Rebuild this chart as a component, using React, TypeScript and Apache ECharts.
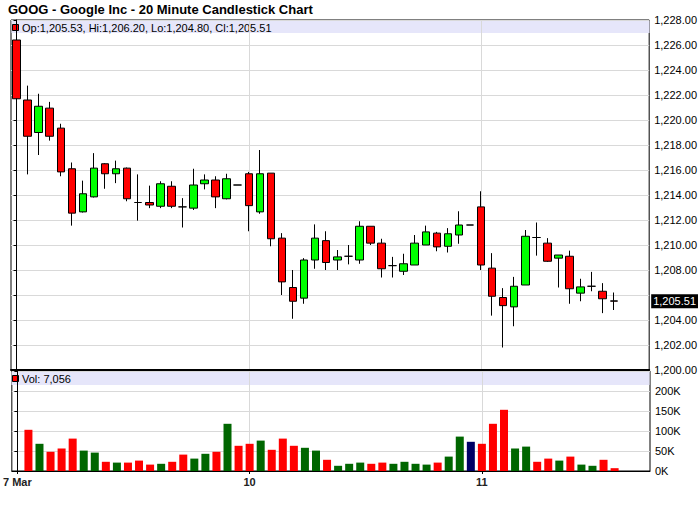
import React, { useEffect, useRef } from 'react';
import * as echarts from 'echarts';

const TITLE = 'GOOG - Google Inc - 20 Minute Candlestick Chart';
const dayLabels = ['7 Mar', '10', '11'];
const dayStartIndex = [0, 21, 42];

const opens = [
  1226.4, 1221.6, 1219.0, 1220.95, 1219.35, 1216.1, 1212.65, 1213.85, 1216.5, 1215.7,
  1216.15, 1213.4, 1213.4, 1213.1, 1214.7, 1213.05, 1212.95, 1214.9, 1215.2, 1213.7,
  1214.8, 1215.7, 1212.65, 1215.75, 1210.55, 1206.6, 1205.75, 1208.8, 1210.35, 1208.8,
  1209.1, 1208.8, 1211.5, 1210.15, 1208.35, 1207.9, 1208.4, 1210.0, 1210.95, 1209.9,
  1210.8, 1211.6, 1213.05, 1208.15, 1205.8, 1205.05, 1206.8, 1210.6, 1210.15, 1208.95,
  1209.1, 1206.15, 1206.7, 1206.3, 1205.53,
];
const highs = [
  1226.85, 1222.75, 1222.1, 1221.45, 1219.7, 1216.6, 1215.15, 1217.35, 1216.55, 1216.75,
  1216.2, 1215.65, 1214.75, 1215.1, 1215.1, 1213.75, 1216.1, 1215.65, 1215.5, 1215.7,
  1214.8, 1215.85, 1217.6, 1215.75, 1210.95, 1208.0, 1208.95, 1211.65, 1211.1, 1209.6,
  1210.0, 1211.9, 1211.5, 1210.5, 1209.05, 1209.3, 1210.8, 1211.55, 1211.05, 1211.35,
  1212.7, 1211.6, 1214.3, 1209.35, 1206.55, 1207.45, 1211.2, 1211.8, 1210.55, 1209.2,
  1209.55, 1207.3, 1207.85, 1206.95, 1206.2,
];
const lows = [
  1220.9, 1215.65, 1217.2, 1218.35, 1215.5, 1211.55, 1212.6, 1213.8, 1214.5, 1214.95,
  1213.5, 1211.95, 1212.95, 1212.95, 1212.95, 1211.4, 1212.8, 1214.45, 1212.95, 1213.65,
  1214.8, 1211.1, 1212.5, 1209.9, 1206.0, 1204.1, 1205.3, 1208.1, 1208.0, 1208.0,
  1208.45, 1208.5, 1210.0, 1207.4, 1207.4, 1207.6, 1208.4, 1210.0, 1209.5, 1209.4,
  1210.1, 1211.6, 1208.0, 1204.35, 1201.8, 1203.5, 1206.8, 1209.15, 1208.65, 1206.6,
  1205.3, 1205.5, 1206.3, 1204.55, 1204.8,
];
const closes = [
  1221.7, 1218.7, 1221.1, 1218.7, 1215.85, 1212.55, 1214.1, 1216.15, 1215.7, 1216.1,
  1213.7, 1213.4, 1213.2, 1214.9, 1213.1, 1213.05, 1214.8, 1215.2, 1213.85, 1215.3,
  1214.8, 1213.15, 1215.7, 1210.5, 1207.05, 1205.5, 1208.8, 1210.55, 1208.6, 1209.05,
  1209.1, 1211.5, 1210.15, 1208.1, 1208.35, 1208.5, 1210.15, 1211.05, 1209.85, 1210.9,
  1211.6, 1211.6, 1208.4, 1205.9, 1205.15, 1206.7, 1210.7, 1210.6, 1208.7, 1209.2,
  1206.5, 1206.65, 1206.7, 1205.7, 1205.51,
];
const volumes: (number | null)[] = [
  null, 103000, 68000, 48000, 56000, 81000, 51000, 46000, 23000, 21000,
  21000, 26000, 16000, 18000, 23000, 41000, 31000, 43000, 48000, 118000,
  63000, 68000, 76000, 53000, 81000, 63000, 58000, 51000, 28000, 13000,
  18000, 21000, 18000, 21000, 18000, 23000, 18000, 16000, 21000, 36000,
  86000, 73000, 68000, 118000, 153000, 56000, 61000, 23000, 31000, 26000,
  36000, 16000, 13000, 28000, 7056,
];

const PRICE_MIN = 1200;
const PRICE_MAX = 1228;
const PRICE_STEP = 2;
const VOL_MAX = 250000;
const VOL_STEP = 50000;

const FONT = '"Liberation Sans", Arial, Helvetica, sans-serif';

const fmt2 = (v: number) =>
  v.toLocaleString('en-US', { minimumFractionDigits: 2, maximumFractionDigits: 2 });
const fmt0 = (v: number) => v.toLocaleString('en-US', { maximumFractionDigits: 0 });

export default function App() {
  const ref = useRef<HTMLDivElement>(null);

  useEffect(() => {
    if (!ref.current) return;
    const chart = echarts.init(ref.current, undefined, { renderer: 'svg' });
    const n = opens.length;
    const last = n - 1;
    const lastClose = closes[last];

    const candleData = opens.map((o, i) => [i, o, closes[i], lows[i], highs[i]]);
    const volData = volumes.map((v, i) => {
      const prev = i > 0 ? closes[i - 1] : closes[i];
      const c = closes[i];
      const color = c > prev ? '#006600' : c < prev ? '#ff0000' : '#000066';
      return { value: [i, v == null ? null : v], itemStyle: { color } };
    });

    const legendText = `Op:${fmt2(opens[last])}, Hi:${fmt2(highs[last])}, Lo:${fmt2(lows[last])}, Cl:${fmt2(closes[last])}`;
    const volText = `Vol: ${fmt0(volumes[last] as number)}`;

    const xBase = {
      type: 'value' as const,
      min: -0.5,
      max: 57.2,
      splitLine: { show: true, lineStyle: { color: '#d9d9d9', width: 1 } },
    };

    chart.setOption({
      animation: false,
      textStyle: { fontFamily: FONT },
      grid: [
        { left: 11, right: 50, top: 20, height: 350, show: true, borderColor: '#000', borderWidth: 1 },
        { left: 11, right: 50, top: 371, height: 100, show: true, borderColor: '#000', borderWidth: 1 },
      ],
      xAxis: [
        {
          ...xBase,
          gridIndex: 0,
          axisLine: { show: true, lineStyle: { color: '#000', width: 2 } },
          axisTick: { show: false, customValues: dayStartIndex },
          axisLabel: { show: false, customValues: dayStartIndex },
        },
        {
          ...xBase,
          gridIndex: 1,
          axisLine: { show: true, lineStyle: { color: '#000', width: 1 } },
          axisTick: { show: true, customValues: dayStartIndex, length: 3, lineStyle: { color: '#000' } },
          axisLabel: {
            show: true,
            customValues: dayStartIndex,
            formatter: (v: number) => dayLabels[dayStartIndex.indexOf(Math.round(v))] ?? '',
            fontWeight: 'bold',
            fontSize: 11,
            color: '#222',
            margin: 5,
            fontFamily: FONT,
          },
        },
      ],
      yAxis: [
        {
          type: 'value',
          gridIndex: 0,
          position: 'right',
          min: PRICE_MIN,
          max: PRICE_MAX,
          interval: PRICE_STEP,
          axisLine: { show: true, lineStyle: { color: '#000' } },
          axisTick: { show: true, inside: true, length: 3, lineStyle: { color: '#000' } },
          axisLabel: {
            fontSize: 11,
            color: '#000',
            margin: 5,
            fontFamily: FONT,
            formatter: (v: number) => (Math.abs(v - lastClose) < 1 ? '' : fmt2(v)),
          },
          splitLine: { show: true, lineStyle: { color: '#d9d9d9', width: 1 } },
        },
        {
          type: 'value',
          gridIndex: 1,
          position: 'right',
          min: 0,
          max: VOL_MAX,
          interval: VOL_STEP,
          axisLine: { show: true, lineStyle: { color: '#000' } },
          axisTick: { show: true, inside: true, length: 3, lineStyle: { color: '#000' } },
          axisLabel: {
            fontSize: 11,
            color: '#000',
            margin: 5,
            fontFamily: FONT,
            formatter: (v: number) => (v >= VOL_MAX ? '' : `${v / 1000}K`),
          },
          splitLine: { show: true, lineStyle: { color: '#d9d9d9', width: 1 } },
        },
      ],
      series: [
        {
          type: 'candlestick',
          xAxisIndex: 0,
          yAxisIndex: 0,
          data: candleData,
          encode: { x: 0, y: [1, 2, 3, 4] },
          barWidth: 8,
          itemStyle: {
            color: '#00ff00',
            color0: '#ff0000',
            borderColor: '#000',
            borderColor0: '#000',
            borderColorDoji: '#000',
            borderWidth: 1,
          },
        },
        {
          type: 'line',
          xAxisIndex: 0,
          yAxisIndex: 0,
          data: [],
          silent: true,
          markLine: {
            silent: true,
            symbol: ['none', 'none'],
            lineStyle: { color: 'rgba(0,0,0,0)', width: 0, type: 'solid' },
            label: {
              show: true,
              position: 'end',
              distance: 2,
              formatter: () => fmt2(lastClose),
              backgroundColor: '#000',
              color: '#fff',
              fontSize: 11,
              fontFamily: FONT,
              padding: [2, 2, 1, 2],
            },
            data: [[{ coord: [-0.5, lastClose] }, { coord: [57.2, lastClose] }]],
          },
        },
        {
          type: 'bar',
          xAxisIndex: 1,
          yAxisIndex: 1,
          barWidth: 8,
          data: volData,
        },
      ],
      graphic: [
        {
          type: 'text',
          x: 8,
          y: 9,
          style: { text: TITLE, fontSize: 13, fontWeight: 'bold', fill: '#000', fontFamily: FONT, verticalAlign: 'middle' },
        },
        { type: 'rect', shape: { x: 11.5, y: 20.5, width: 638, height: 12.5 }, style: { fill: '#e6e6fa' } },
        { type: 'rect', shape: { x: 12.5, y: 24.5, width: 6, height: 6 }, style: { fill: '#ff0000', stroke: '#000', lineWidth: 1 } },
        {
          type: 'text',
          x: 22,
          y: 27.5,
          style: { text: legendText, fontSize: 11, fill: '#000', fontFamily: FONT, verticalAlign: 'middle' },
        },
        { type: 'rect', shape: { x: 11.5, y: 372, width: 638, height: 13 }, style: { fill: '#e6e6fa' } },
        { type: 'rect', shape: { x: 12.5, y: 375.5, width: 6, height: 6 }, style: { fill: '#ff0000', stroke: '#000', lineWidth: 1 } },
        {
          type: 'text',
          x: 22,
          y: 378.5,
          style: { text: volText, fontSize: 11, fill: '#000', fontFamily: FONT, verticalAlign: 'middle' },
        },
      ],
    });

    return () => chart.dispose();
  }, []);

  return (
    <div
      ref={ref}
      style={{ position: 'fixed', left: 0, top: 0, width: 700, height: 512, background: '#fff' }}
    />
  );
}
